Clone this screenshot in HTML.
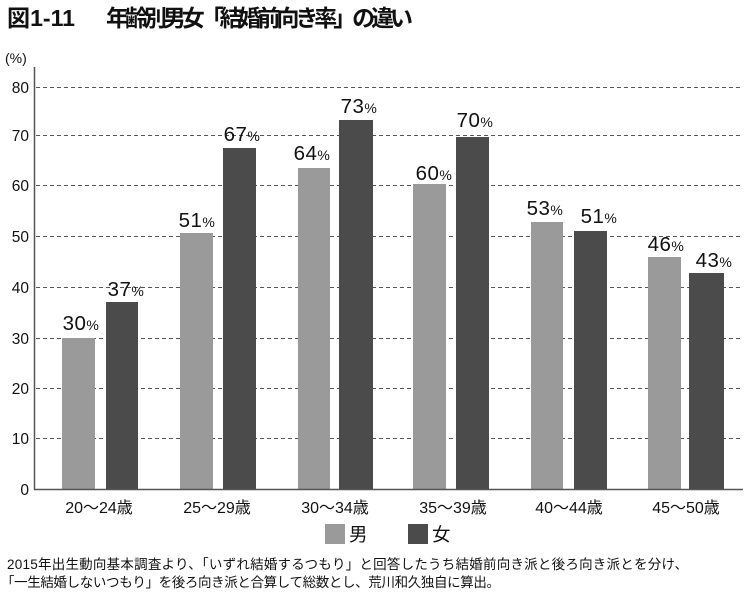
<!DOCTYPE html>
<html><head><meta charset="utf-8">
<style>
html,body{margin:0;padding:0;background:#fff;}
svg{display:block;}
text{font-family:"Liberation Sans","Noto Sans CJK JP",sans-serif;fill:#111;}
</style></head>
<body>
<svg width="750" height="597" viewBox="0 0 750 597" xmlns="http://www.w3.org/2000/svg">
<rect width="750" height="597" fill="#fff"/>
<!-- Title -->
<text x="7" y="26" font-size="23" font-weight="bold" textLength="68" lengthAdjust="spacingAndGlyphs">図1-11</text>
<text x="106" y="26" font-size="23" font-weight="bold" textLength="307" lengthAdjust="spacing">年齢別男女「結婚前向き率」の違い</text>
<!-- (%) -->
<text x="5" y="63" font-size="14">(%)</text>
<!-- gridlines -->
<g stroke="#555" stroke-width="1" stroke-dasharray="4 3">
<line x1="36" y1="87.5" x2="742" y2="87.5"/>
<line x1="36" y1="135.5" x2="742" y2="135.5"/>
<line x1="36" y1="185.5" x2="742" y2="185.5"/>
<line x1="36" y1="236.5" x2="742" y2="236.5"/>
<line x1="36" y1="287.5" x2="742" y2="287.5"/>
<line x1="36" y1="338.5" x2="742" y2="338.5"/>
<line x1="36" y1="388.5" x2="742" y2="388.5"/>
<line x1="36" y1="438.5" x2="742" y2="438.5"/>
</g>
<!-- y tick labels -->
<g font-size="15.5" text-anchor="end">
<text x="29" y="93">80</text>
<text x="29" y="141">70</text>
<text x="29" y="191">60</text>
<text x="29" y="242">50</text>
<text x="29" y="293">40</text>
<text x="29" y="344">30</text>
<text x="29" y="394">20</text>
<text x="29" y="444">10</text>
<text x="29" y="495">0</text>
</g>
<!-- bars -->
<g fill="#9a9a9a">
<rect x="62" y="338" width="33" height="151"/>
<rect x="180" y="233" width="33" height="256"/>
<rect x="298" y="168" width="32" height="321"/>
<rect x="413" y="184" width="33" height="305"/>
<rect x="531" y="222" width="32" height="267"/>
<rect x="648" y="257" width="33" height="232"/>
</g>
<g fill="#4b4b4b">
<rect x="106" y="302" width="32" height="187"/>
<rect x="223" y="148" width="33" height="341"/>
<rect x="339" y="120" width="34" height="369"/>
<rect x="456" y="137" width="33" height="352"/>
<rect x="574" y="231" width="33" height="258"/>
<rect x="689" y="273" width="35" height="216"/>
</g>
<!-- axes -->
<line x1="34.5" y1="67" x2="34.5" y2="490" stroke="#555" stroke-width="1.5"/>
<line x1="34" y1="489.5" x2="743" y2="489.5" stroke="#555" stroke-width="1.5"/>
<!-- value labels -->
<g font-size="20.5" text-anchor="middle" letter-spacing="0.5">
<text x="81" y="330">30<tspan font-size="14">%</tspan></text>
<text x="126" y="296">37<tspan font-size="14">%</tspan></text>
<text x="197" y="227">51<tspan font-size="14">%</tspan></text>
<text x="242" y="141">67<tspan font-size="14">%</tspan></text>
<text x="312" y="160">64<tspan font-size="14">%</tspan></text>
<text x="359" y="113">73<tspan font-size="14">%</tspan></text>
<text x="434" y="180">60<tspan font-size="14">%</tspan></text>
<text x="475" y="127">70<tspan font-size="14">%</tspan></text>
<text x="545" y="215">53<tspan font-size="14">%</tspan></text>
<text x="599" y="223">51<tspan font-size="14">%</tspan></text>
<text x="666" y="251">46<tspan font-size="14">%</tspan></text>
<text x="714" y="267">43<tspan font-size="14">%</tspan></text>
</g>
<!-- category labels -->
<g font-size="16" text-anchor="middle">
<text x="99" y="513">20～24歳</text>
<text x="217" y="513">25～29歳</text>
<text x="335" y="513">30～34歳</text>
<text x="453" y="513">35～39歳</text>
<text x="569" y="513">40～44歳</text>
<text x="686" y="513">45～50歳</text>
</g>
<!-- legend -->
<rect x="325" y="524" width="20" height="20" fill="#9a9a9a"/>
<text x="349" y="541" font-size="18.5">男</text>
<rect x="408" y="524" width="20" height="20" fill="#4b4b4b"/>
<text x="432" y="541" font-size="18.5">女</text>
<!-- footnote -->
<text x="7" y="569" font-size="13.5" textLength="681" lengthAdjust="spacing">2015年出生動向基本調査より、「いずれ結婚するつもり」と回答したうち結婚前向き派と後ろ向き派とを分け、</text>
<text x="1" y="587" font-size="13.5" textLength="499" lengthAdjust="spacing">「一生結婚しないつもり」を後ろ向き派と合算して総数とし、荒川和久独自に算出。</text>
</svg>
</body></html>
